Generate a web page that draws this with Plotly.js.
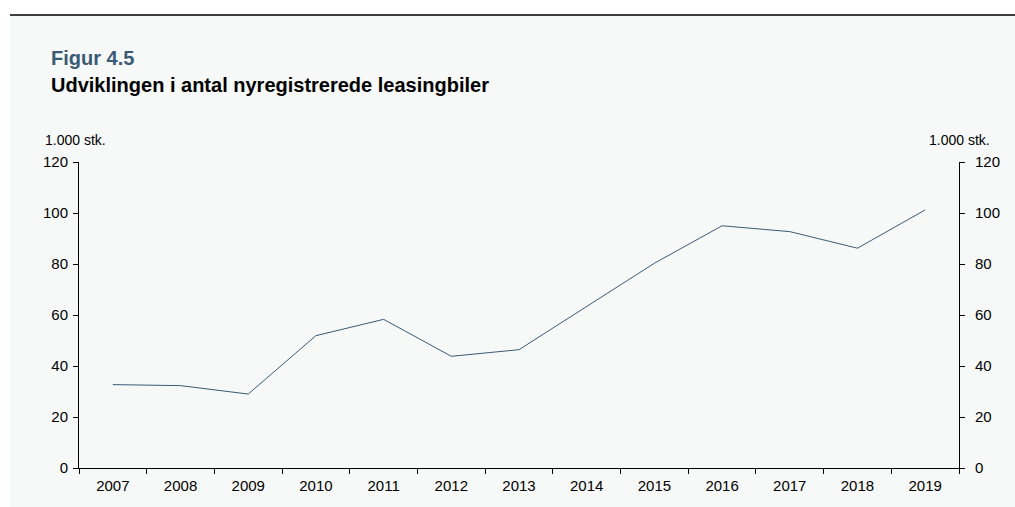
<!DOCTYPE html>
<html>
<head>
<meta charset="utf-8">
<script src="https://cdn.plot.ly/plotly-3.0.1.min.js"></script>
<style>
  html, body { margin: 0; padding: 0; background: #ffffff; }
  #chart { width: 1015px; height: 507px; }
</style>
</head>
<body>
<div id="chart"></div>
<script>
// Data (thousands of newly registered leasing cars)
const years = ['2007','2008','2009','2010','2011','2012','2013','2014','2015','2016','2017','2018','2019'];
const leasingCars = [32.7, 32.3, 29.0, 51.9, 58.3, 43.8, 46.4, 63.3, 80.3, 95.0, 92.7, 86.2, 101.2];
const yTicks = [0, 20, 40, 60, 80, 100, 120];

const figTitle = 'Figur 4.5';
const subTitle = 'Udviklingen i antal nyregistrerede leasingbiler';
const unitLabel = '1.000 stk.';

// Layout geometry (pixels)
const W = 1015, H = 507;
const L = 79, R = 959, T = 162, B = 468;
const pw = R - L, ph = B - T;
const px = x => (x - L) / pw;
const py = y => (B - y) / ph;

const bg = '#f7f9f9';
const lineCol = '#3b5a75';
const font = 'Liberation Sans, Arial, sans-serif';

const traces = [
  {
    x: years, y: leasingCars, type: 'scatter', mode: 'lines',
    line: { color: lineCol, width: 1 }, xaxis: 'x', yaxis: 'y',
    hoverinfo: 'x+y', showlegend: false
  },
  {
    x: years, y: leasingCars, type: 'scatter', mode: 'lines',
    line: { color: 'rgba(0,0,0,0)', width: 0 }, xaxis: 'x', yaxis: 'y2',
    hoverinfo: 'skip', showlegend: false
  }
];

const axisCommon = {
  showgrid: false, zeroline: false, showline: true, linecolor: '#000000', linewidth: 1,
  ticks: 'outside', ticklen: 5, tickwidth: 1, tickcolor: '#000000',
  tickfont: { family: font, size: 15, color: '#000000' }, fixedrange: true
};

const layout = {
  width: W, height: H,
  margin: { l: L, r: W - R, t: T, b: H - B, pad: 0 },
  paper_bgcolor: '#ffffff',
  plot_bgcolor: bg,
  showlegend: false,
  xaxis: Object.assign({}, axisCommon, {
    type: 'category', range: [-0.5, years.length - 0.5],
    tickson: 'boundaries', ticklen: 5, ticklabelstandoff: 4
  }),
  yaxis: Object.assign({}, axisCommon, {
    range: [0, 120], tickvals: yTicks, ticktext: yTicks.map(String), side: 'left',
    ticklabelstandoff: 2
  }),
  yaxis2: Object.assign({}, axisCommon, {
    range: [0, 120], tickvals: yTicks, ticktext: yTicks.map(String),
    side: 'right', overlaying: 'y', ticklabelstandoff: 7
  }),
  shapes: [
    { type: 'rect', xref: 'paper', yref: 'paper', layer: 'below',
      x0: px(10), x1: px(W + 5), y0: py(H + 5), y1: py(15.5),
      fillcolor: bg, line: { width: 0 } },
    { type: 'line', xref: 'paper', yref: 'paper',
      x0: px(10), x1: px(W + 5), y0: py(15), y1: py(15),
      line: { color: '#000000', width: 1.5 } }
  ],
  annotations: [
    { text: '<b>' + figTitle + '</b>', xref: 'paper', yref: 'paper',
      x: px(49), y: py(58), xanchor: 'left', yanchor: 'middle', showarrow: false,
      font: { family: font, size: 20, color: '#3b5a75' } },
    { text: '<b>' + subTitle + '</b>', xref: 'paper', yref: 'paper',
      x: px(49), y: py(85), xanchor: 'left', yanchor: 'middle', showarrow: false,
      font: { family: font, size: 20, color: '#000000' } },
    { text: unitLabel, xref: 'paper', yref: 'paper',
      x: px(43), y: py(140), xanchor: 'left', yanchor: 'middle', showarrow: false,
      font: { family: font, size: 14, color: '#000000' } },
    { text: unitLabel, xref: 'paper', yref: 'paper',
      x: px(992), y: py(140), xanchor: 'right', yanchor: 'middle', showarrow: false,
      font: { family: font, size: 14, color: '#000000' } }
  ]
};

Plotly.newPlot('chart', traces, layout, { displayModeBar: false, staticPlot: true });
</script>
</body>
</html>
